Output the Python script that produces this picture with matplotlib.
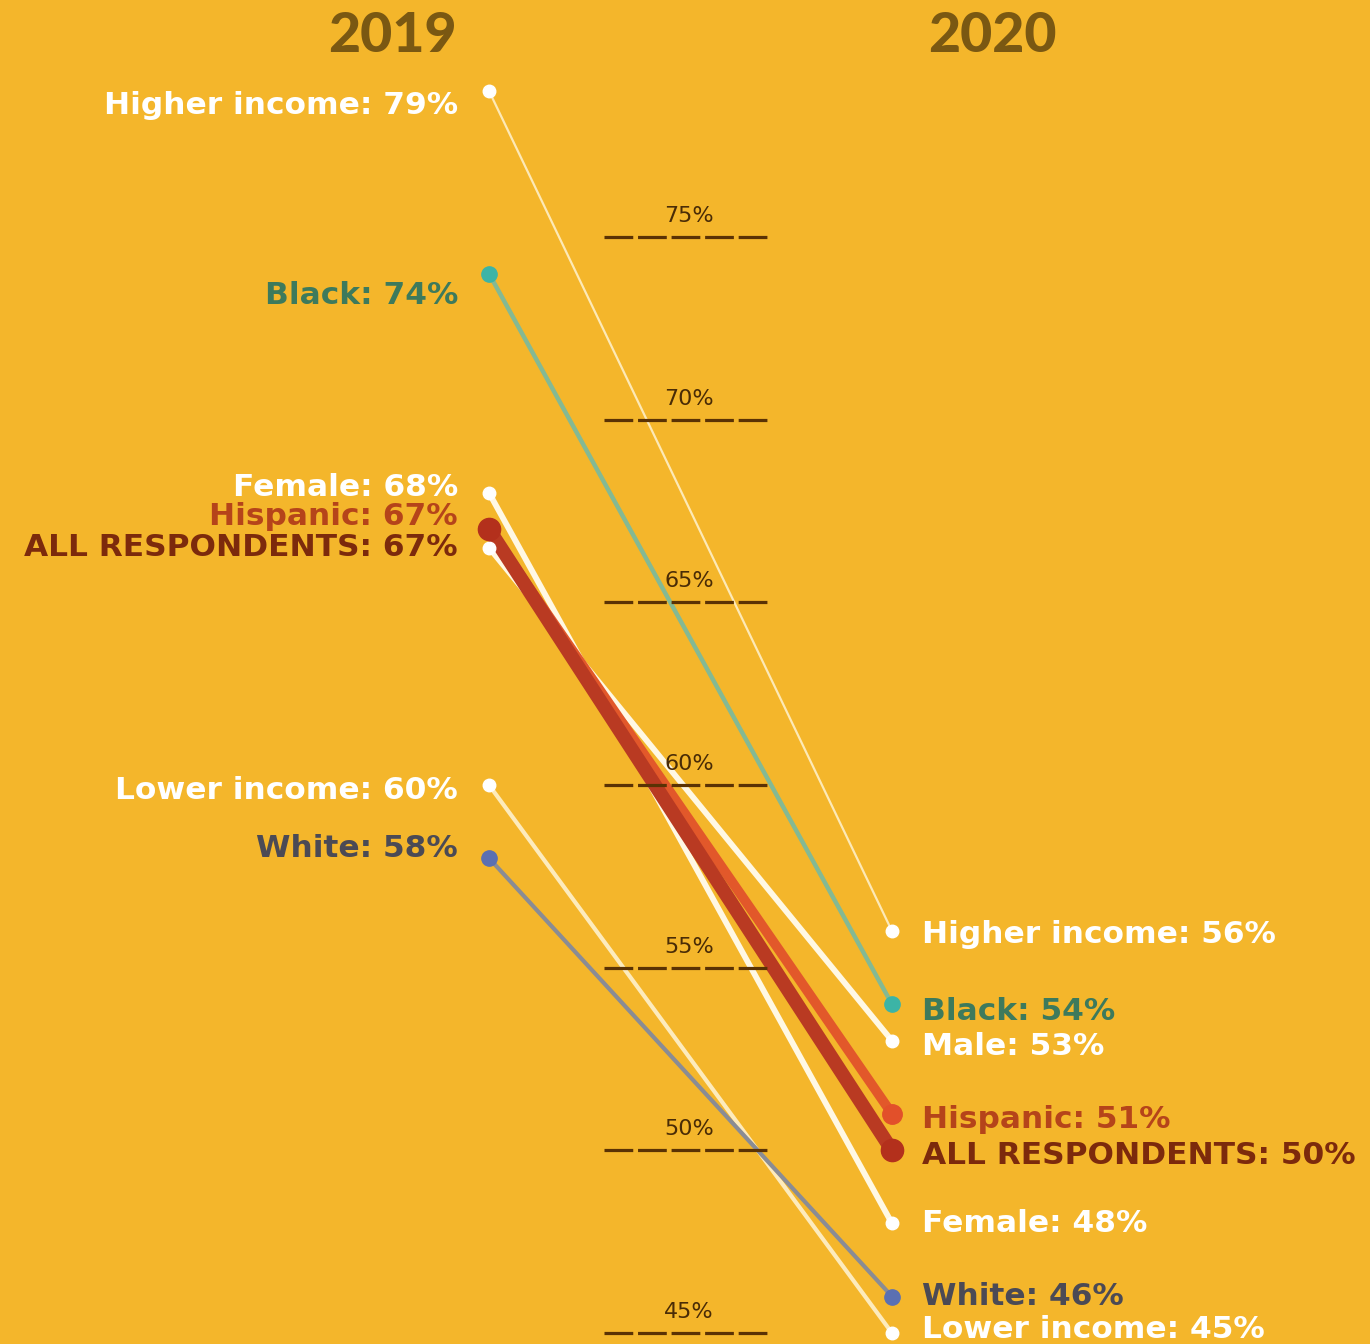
import matplotlib.pyplot as plt
import numpy as np

# share of respondents, 2019 vs 2020
groups = ["Higher income", "Black", "Female", "Male", "Hispanic",
          "ALL RESPONDENTS", "Lower income", "White"]
pct_2019 = [79, 74, 68, 66.5, 67, 67, 60, 58]
pct_2020 = [56, 54, 48, 53, 51, 50, 45, 46]
years = ["2019", "2020"]
grid_levels = [75, 70, 65, 60, 55, 50, 45]

# groups labelled on each side (Male has no 2019 label)
left_labels = ["Higher income", "Black", "Female", "Hispanic",
               "ALL RESPONDENTS", "Lower income", "White"]
right_labels = ["Higher income", "Black", "Male", "Hispanic",
                "ALL RESPONDENTS", "Female", "White", "Lower income"]

bg = "#f4b62b"
style = {
    "Higher income":   dict(line="#fde9b6", lw=1.6, dot="white", ms=9, text="white"),
    "Black":           dict(line="#84b993", lw=3.2, dot="#3cb4a6", ms=11, text="#3d7a5c"),
    "Female":          dict(line="#fff8e4", lw=4.2, dot="white", ms=9, text="white"),
    "Male":            dict(line="#fff8e4", lw=4.2, dot="white", ms=9, text="white"),
    "Hispanic":        dict(line="#e2582a", lw=7, dot="#e2502a", ms=14, text="#b5441a"),
    "ALL RESPONDENTS": dict(line="#b93a22", lw=10, dot="#b3301c", ms=16, text="#7c2a0c"),
    "Lower income":    dict(line="#fdebbc", lw=3, dot="white", ms=9, text="white"),
    "White":           dict(line="#8a8c94", lw=3, dot="#5b70b2", ms=11, text="#4b4a55"),
}
draw_order = ["Higher income", "Black", "Lower income", "White", "Male",
              "Female", "Hispanic", "ALL RESPONDENTS"]

# label heights where labels are stacked apart from their dots
left_text_y = {"Higher income": 78.6, "Black": 73.4, "Female": 68.15,
               "Hispanic": 67.35, "ALL RESPONDENTS": 66.5,
               "Lower income": 59.85, "White": 58.25}
right_text_y = {"Higher income": 55.9, "Black": 53.8, "Male": 52.85,
                "Hispanic": 50.85, "ALL RESPONDENTS": 49.85,
                "Female": 48.0, "White": 46.0, "Lower income": 45.1}

plt.rcParams['font.family'] = ['DejaVu Sans']

fig = plt.figure(figsize=(13.7, 13.44), dpi=100, facecolor=bg)
ax = fig.add_axes([0, 0, 1, 1])
ax.set_facecolor(bg)
ax.set_xlim(-1.2134, 2.186)
ax.set_ylim(44.70, 81.49)
ax.axis('off')

x = np.array([0, 1])
for g in draw_order:
    i = groups.index(g)
    s = style[g]
    ax.plot(x, [pct_2019[i], pct_2020[i]], color=s["line"], lw=s["lw"],
            solid_capstyle='round', zorder=2)
    ax.plot(x, [pct_2019[i], pct_2020[i]], ls='none', marker='o',
            ms=s["ms"], mfc=s["dot"], mec=s["dot"], zorder=3)

# dashed reference levels
for lv in grid_levels:
    ax.plot([0.285, 0.697], [lv, lv], color="#5a3204", lw=2.3,
            dashes=(9.0, 1.5), zorder=4)
    ax.text(0.496, lv + 0.3, f"{lv}%", ha='center', va='bottom',
            fontsize=16, color="#4a2c06", zorder=4)

for g in left_labels:
    i = groups.index(g)
    ax.text(-0.077, left_text_y[g], f"{g}: {pct_2019[i]:g}%", ha='right',
            va='center', fontsize=22.5, fontweight='bold',
            color=style[g]["text"], zorder=5)

for g in right_labels:
    i = groups.index(g)
    ax.text(1.075, right_text_y[g], f"{g}: {pct_2020[i]:g}%", ha='left',
            va='center', fontsize=22.5, fontweight='bold',
            color=style[g]["text"], zorder=5)

for xi, yr in zip([-0.24, 1.25], years):
    ax.text(xi, 80.5, yr, ha='center', va='center', fontsize=40,
            fontweight='black', family=['Lato', 'DejaVu Sans'],
            color="#7a5812")

fig.savefig("out.png", dpi=100, facecolor=bg)
